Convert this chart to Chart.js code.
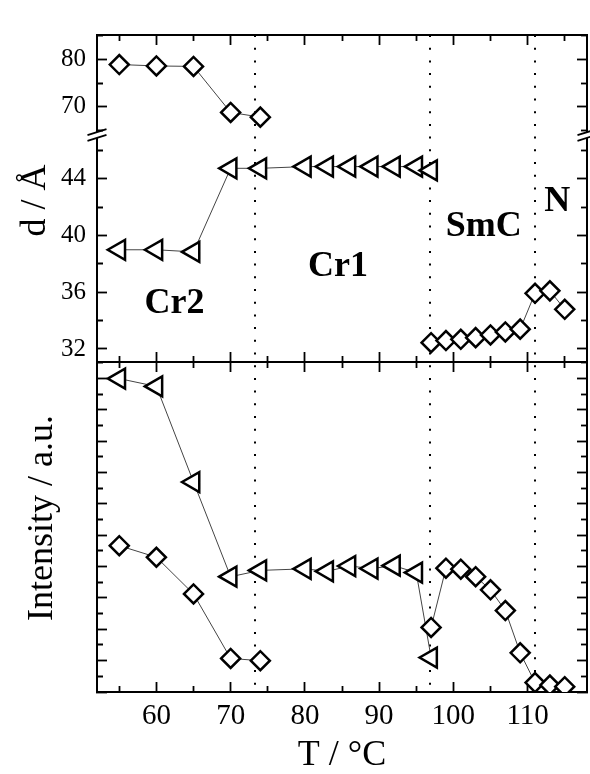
<!doctype html>
<html>

<head>
    <title>d-spacing and intensity vs T</title>
    <script src="https://cdn.jsdelivr.net/npm/chart.js"></script>
    <style>
        body {
            margin: 0;
            background: #fff;
        }

        canvas {
            display: block;
        }
    </style>
</head>

<body>
    <canvas id="grafico" width="590" height="774"></canvas>

    <script>
        // temperatures (°C)
        var tDiamondLow = [55, 60, 65, 70, 74];
        var tDiamondHigh = [97, 99, 101, 103, 105, 107, 109, 111, 113, 115];
        var tTriangle = [55, 60, 65, 70, 74, 80, 83, 86, 89, 92, 95, 97];

        // layer spacing d (Å)
        var dDiamondLow = [78.9, 78.6, 78.5, 68.8, 67.8];
        var dDiamondHigh = [32.44, 32.59, 32.68, 32.8, 32.99, 33.2, 33.4, 35.93, 36.1, 34.8];
        var dTriangle = [39.0, 39.0, 38.85, 44.75, 44.75, 44.87, 44.87, 44.87, 44.87, 44.87, 44.87, 44.6];

        // intensity (a.u.)
        var iDiamondLow = [4.67, 4.3, 3.13, 1.07, 1.0];
        var iDiamondHigh = [2.06, 3.95, 3.92, 3.68, 3.26, 2.6, 1.25, 0.3, 0.22, 0.17];
        var iTriangle = [10.0, 9.75, 6.7, 3.68, 3.88, 3.93, 3.85, 4.02, 3.94, 4.03, 3.81, 1.1];

        // phase transitions and phase names (placed in T / d units)
        var transicoes = [73.3, 96.9, 111];
        var fases = ['Cr2', 'Cr1', 'SmC', 'N'];
        var faseT = [62.45, 84.45, 104.1, 114.0];
        var faseD = [35.17, 37.82, 40.61, 42.41];

        // axis ranges
        var xMin = 52, xMax = 118;
        var dTopMin = 64.03, dTopMax = 85.13;
        var dMidMin = 31.08, dMidMax = 47.1;
        var intMin = 0, intMax = 10.53;

        var preto = '#000';
        var serifa = "'Liberation Serif', 'Times New Roman', serif";

        function pontos(xs, ys) {
            return xs.map(function (x, i) { return { x: x, y: ys[i] }; });
        }

        function serie(xs, ys, eixoY, triangulo, recorte) {
            return {
                data: pontos(xs, ys),
                xAxisID: 'x',
                yAxisID: eixoY,
                showLine: true,
                borderColor: '#444',
                borderWidth: 1,
                pointStyle: triangulo ? 'triangle' : 'rectRot',
                pointRotation: triangulo ? 270 : 0,
                pointRadius: triangulo ? 11.5 : 9.5,
                pointBorderColor: preto,
                pointBackgroundColor: '#fff',
                pointBorderWidth: 2.5,
                clip: recorte
            };
        }

        function multiplo(passo) {
            return function (v) { return Math.abs(v / passo - Math.round(v / passo)) < 1e-6; };
        }

        // inward ticks; minor ticks are shortened with a dash pattern
        function marcas(maior, comprimento, tracoMenor) {
            return {
                display: true,
                drawOnChartArea: false,
                drawTicks: true,
                tickLength: comprimento,
                tickWidth: 1.8,
                tickColor: preto,
                tickBorderDash: function (c) {
                    return c.tick && !maior(c.tick.value) ? tracoMenor : [];
                }
            };
        }

        // fixed axis sizes, no extra padding around the plot area
        function tamanho(largura, altura) {
            return function (s) {
                if (largura !== null) s.width = largura;
                if (altura !== null) s.height = altura;
                s.paddingLeft = 0;
                s.paddingRight = 0;
                s.paddingTop = 0;
                s.paddingBottom = 0;
            };
        }

        var borda = { display: true, color: preto, width: 2 };

        function eixoX(posicao, comprimento, tracoMenor) {
            return {
                type: 'linear', axis: 'x', position: posicao, min: xMin, max: xMax,
                afterFit: tamanho(null, null),
                border: borda,
                grid: marcas(multiplo(10), comprimento, tracoMenor),
                ticks: { display: false, stepSize: 5, includeBounds: false }
            };
        }

        function eixoY(lado, peso, altura, min, max, passo, maior, rotulos) {
            var esquerda = lado === 'left';
            return {
                type: 'linear', axis: 'y', position: lado,
                stack: lado, stackWeight: altura, weight: peso,
                min: min, max: max,
                afterFit: tamanho(esquerda ? 97 : 3, null),
                border: borda,
                grid: marcas(multiplo(maior), -10, esquerda ? [0, 4, 20] : [7, 100]),
                ticks: {
                    display: esquerda && rotulos,
                    stepSize: passo, includeBounds: false, autoSkip: false,
                    padding: 21, color: preto,
                    font: { family: serifa, size: 25 },
                    callback: function (v) { return multiplo(maior)(v) ? v : ''; }
                }
            };
        }

        function rotulo(ctx, texto, x, y) {
            ctx.save();
            ctx.translate(x, y);
            ctx.rotate(-Math.PI / 2);
            ctx.fillText(texto, 0, 0);
            ctx.restore();
        }

        function quebra(ctx, x, y) {
            ctx.fillStyle = '#fff';
            ctx.beginPath();
            ctx.moveTo(x - 3, y - 2);
            ctx.lineTo(x + 3, y - 3.8);
            ctx.lineTo(x + 3, y + 2);
            ctx.lineTo(x - 3, y + 3.8);
            ctx.closePath();
            ctx.fill();
            ctx.strokeStyle = preto;
            ctx.lineWidth = 1.8;
            [-2.85, 2.85].forEach(function (o) {
                ctx.beginPath();
                ctx.moveTo(x - 9.5, y + o + 3);
                ctx.lineTo(x + 9.5, y + o - 3);
                ctx.stroke();
            });
        }

        var extras = {
            id: 'extras',
            afterDraw: function (chart) {
                var ctx = chart.ctx, a = chart.chartArea, s = chart.scales;
                ctx.save();
                ctx.fillStyle = preto;
                ctx.font = 'bold 36px ' + serifa;
                ctx.textAlign = 'center';
                ctx.textBaseline = 'middle';
                fases.forEach(function (nome, i) {
                    ctx.fillText(nome, s.x.getPixelForValue(faseT[i]), s.yMeio.getPixelForValue(faseD[i]));
                });

                ctx.font = '36px ' + serifa;
                ctx.textBaseline = 'alphabetic';
                rotulo(ctx, 'd / Å', 45, (s.yTopo.top + s.yMeio.bottom) / 2 + 2);
                rotulo(ctx, 'Intensity / a.u.', 51.5, (s.yInt.top + s.yInt.bottom) / 2 - 9);

                quebra(ctx, a.left, s.yTopo.bottom);
                quebra(ctx, a.right, s.yTopo.bottom);
                ctx.restore();
            }
        };

        var escalas = {
            x: {
                type: 'linear', axis: 'x', position: 'bottom', min: xMin, max: xMax,
                afterFit: tamanho(null, 82),
                border: borda,
                grid: marcas(multiplo(10), -10, [7, 100]),
                ticks: {
                    stepSize: 5, includeBounds: false, autoSkip: false, maxRotation: 0,
                    padding: 17, color: preto,
                    font: { family: serifa, size: 29 },
                    callback: function (v) { return v % 10 === 0 ? v : ''; }
                },
                title: {
                    display: true, text: 'T / °C', color: preto, padding: 0,
                    font: { family: serifa, size: 36, lineHeight: 1 }
                }
            },
            xTopo: eixoX({ yTopo: dTopMax }, 9, [5, 100]),
            xMeio: eixoX({ yMeio: dMidMin }, -11, [7, 100]),
            xInt: eixoX({ yInt: intMax }, 9, [5, 100]),
            xFases: {
                type: 'linear', axis: 'x', position: { yInt: intMin }, min: xMin, max: xMax,
                afterFit: tamanho(null, null),
                afterBuildTicks: function (s) {
                    s.ticks = transicoes.map(function (v) { return { value: v }; });
                },
                border: { display: false, dash: [2, 10.7] },
                grid: { display: true, drawOnChartArea: true, drawTicks: false, color: preto, lineWidth: 2 },
                ticks: { display: false }
            },
            yTopo: eixoY('left', 3, 100, dTopMin, dTopMax, 5, 10, true),
            yMeio: eixoY('left', 2, 227, dMidMin, dMidMax, 2, 4, true),
            yInt: eixoY('left', 1, 330, intMin, intMax, 0.5, 1, false),
            yTopoD: eixoY('right', 1, 100, dTopMin, dTopMax, 5, 10, false),
            yMeioD: eixoY('right', 2, 227, dMidMin, dMidMax, 2, 4, false),
            yIntD: eixoY('right', 3, 330, intMin, intMax, 0.5, 1, false)
        };

        var grafico = new Chart(document.getElementById('grafico'), {
            type: 'scatter',
            data: {
                datasets: [
                    serie(tDiamondLow, dDiamondLow, 'yTopo', false, undefined),
                    serie(tDiamondHigh, dDiamondHigh, 'yMeio', false, undefined),
                    serie(tTriangle, dTriangle, 'yMeio', true, undefined),
                    serie(tDiamondLow, iDiamondLow, 'yInt', false, 0),
                    serie(tDiamondHigh, iDiamondHigh, 'yInt', false, 0),
                    serie(tTriangle, iTriangle, 'yInt', true, 0)
                ]
            },
            options: {
                responsive: false,
                animation: false,
                events: [],
                layout: { autoPadding: false, padding: { top: 35, left: 0, right: 0, bottom: 0 } },
                plugins: { legend: { display: false }, tooltip: { enabled: false } },
                scales: escalas
            },
            plugins: [extras]
        });
    </script>
</body>

</html>
